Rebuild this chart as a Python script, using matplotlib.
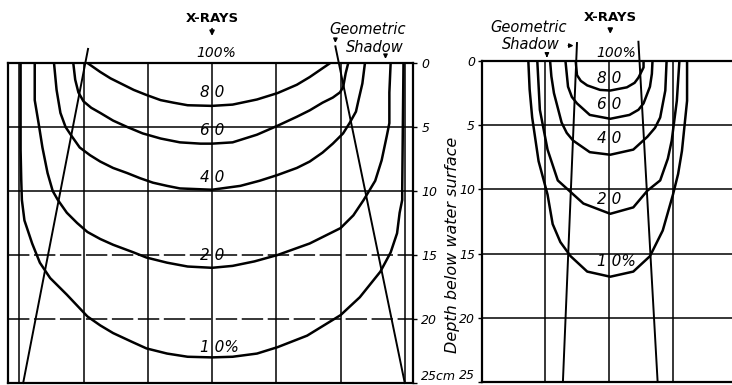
# %%
import matplotlib.pyplot as plt

# %% isodose curves, wide field (x: cm from beam axis, d: depth in cm)
wide_80_x = [-9.7, -8.7, -7.9, -6.9, -6.1, -5.1, -4.0, -3.0, -1.9, 0.0, 1.6, 3.5, 5.1, 6.6, 7.6, 8.4, 9.2]
wide_80_d = [0.0, 0.7, 1.2, 1.7, 2.1, 2.5, 2.9, 3.1, 3.3, 3.35, 3.25, 2.85, 2.35, 1.7, 1.1, 0.55, 0.0]
wide_60_x = [-10.8, -10.65, -10.4, -10.0, -9.4, -8.7, -7.7, -6.6, -5.4, -4.0, -2.5, -0.9, 0.0,
             1.6, 3.5, 5.1, 6.6, 7.6, 8.6, 9.4, 9.95, 10.2, 10.4, 10.6]
wide_60_d = [0.0, 1.3, 2.3, 3.0, 3.5, 3.9, 4.5, 5.0, 5.5, 5.9, 6.2, 6.3, 6.3,
             6.2, 5.6, 4.9, 4.2, 3.7, 3.1, 2.7, 2.3, 1.9, 0.8, 0.0]
wide_40_x = [-12.3, -12.1, -11.8, -11.4, -11.0, -10.3, -9.5, -8.7, -7.7, -6.6, -5.6, -4.6, -3.5, -2.5, 0.0,
             2.2, 3.7, 5.1, 6.6, 7.6, 8.6, 9.4, 10.2, 10.7, 11.2, 11.4, 11.7, 11.9]
wide_40_d = [0.0, 2.1, 3.9, 5.0, 5.6, 6.6, 7.2, 7.7, 8.2, 8.6, 9.0, 9.35, 9.6, 9.8, 9.9,
             9.6, 9.2, 8.75, 8.2, 7.7, 7.0, 6.3, 5.5, 4.7, 3.8, 2.9, 1.6, 0.0]
wide_20_x = [-13.8, -13.8, -13.5, -13.2, -12.8, -12.4, -12.0, -11.3, -10.5, -9.7, -8.7, -7.7, -6.1, -5.1,
             -3.5, -1.9, 0.0, 1.6, 3.3, 5.1, 7.6, 10.0, 11.0, 11.8, 12.7, 13.2, 13.6, 13.8, 13.8, 13.9]
wide_20_d = [0.0, 2.9, 4.7, 6.6, 8.6, 10.0, 10.7, 11.7, 12.5, 13.2, 13.75, 14.2, 14.8, 15.2,
             15.6, 15.9, 16.0, 15.85, 15.5, 15.0, 14.1, 12.9, 11.9, 10.7, 9.2, 7.6, 5.7, 4.7, 2.3, 0.0]
wide_10_x = [-14.9, -14.9, -14.85, -14.8, -14.6, -14.0, -13.4, -12.6, -11.3, -9.7, -8.7, -7.7, -6.2, -5.1,
             -3.5, -1.9, 0.0, 1.6, 3.5, 5.1, 7.4, 10.0, 11.5, 13.1, 13.9, 14.4, 14.6, 14.8, 14.8, 14.9]
wide_10_d = [0.0, 6.8, 9.1, 10.7, 12.3, 14.1, 15.6, 16.8, 18.1, 19.8, 20.5, 21.1, 21.8, 22.3,
             22.7, 22.95, 23.0, 22.95, 22.7, 22.2, 21.3, 19.7, 18.3, 16.3, 14.8, 13.3, 11.7, 10.7, 9.9, 0.0]
wide_shadow_left_x = [-9.65, -14.7]
wide_shadow_left_d = [-1.1, 25.0]
wide_shadow_right_x = [9.6, 15.0]
wide_shadow_right_d = [-1.3, 25.0]

# %% isodose curves, narrow field
narrow_80_x = [-2.6, -2.5, -2.2, -1.7, -0.7, 0.1, 1.4, 2.0, 2.3, 2.7, 2.7]
narrow_80_d = [0.0, 1.1, 1.55, 1.9, 2.25, 2.3, 2.05, 1.7, 1.3, 0.5, 0.0]
narrow_60_x = [-3.4, -3.3, -3.2, -2.9, -2.5, -1.5, 0.1, 1.6, 2.3, 2.7, 3.2, 3.35, 3.4]
narrow_60_d = [0.0, 1.0, 2.0, 2.8, 3.3, 4.2, 4.5, 4.2, 3.8, 3.3, 2.0, 1.0, 0.0]
narrow_40_x = [-4.6, -4.5, -4.3, -3.7, -3.3, -2.8, -1.5, 0.1, 1.9, 3.0, 3.6, 4.0, 4.4, 4.5]
narrow_40_d = [0.0, 1.2, 2.5, 4.8, 5.6, 6.2, 7.1, 7.3, 6.9, 5.9, 5.2, 4.4, 2.3, 0.0]
narrow_20_x = [-5.6, -5.5, -5.4, -4.8, -4.0, -3.0, -2.0, 0.1, 1.9, 3.0, 4.0, 4.6, 4.9, 5.3, 5.5]
narrow_20_d = [0.0, 1.9, 3.8, 6.9, 9.3, 10.2, 11.1, 11.9, 11.4, 10.1, 9.3, 7.6, 6.2, 3.1, 0.0]
narrow_10_x = [-6.3, -6.2, -6.0, -5.5, -4.8, -4.4, -3.8, -3.0, -1.7, 0.1, 1.9, 3.2, 4.2, 5.0, 5.4, 5.7, 6.1, 6.1]
narrow_10_d = [0.0, 2.2, 4.4, 7.8, 10.4, 12.7, 14.1, 15.2, 16.4, 16.8, 16.4, 15.2, 13.2, 10.4, 8.8, 7.0, 3.1, 0.0]
narrow_shadow_left_x = [-2.5, -3.6]
narrow_shadow_left_d = [-1.4, 25.0]
narrow_shadow_right_x = [2.3, 3.8]
narrow_shadow_right_d = [-1.5, 25.0]

depth_ticks = [0, 5, 10, 15, 20, 25]
wide_tick_labels = ["0", "5", "10", "15", "20", "25cm"]
narrow_tick_labels = ["0", "5", "10", "15", "20", "25"]
wide_level_labels = ["8 0", "6 0", "4 0", "2 0", "1 0%"]
wide_level_pos = [(0.0, 2.65), (0.0, 5.6), (0.0, 9.3), (0.0, 15.4), (0.6, 22.6)]
narrow_level_labels = ["8 0", "6 0", "4 0", "2 0", "1 0%"]
narrow_level_pos = [(0.0, 1.75), (0.0, 3.7), (0.0, 6.4), (0.0, 11.1), (0.6, 16.0)]

W, H = 732, 385
fig = plt.figure(figsize=(W / 100, H / 100), dpi=100)


def px_axes(x0, x1, y0, y1):
    return [x0 / W, 1 - y1 / H, (x1 - x0) / W, (y1 - y0) / H]


hand = dict(family="DejaVu Sans", style="italic")
curve_kw = dict(color="black", lw=1.8, solid_capstyle="round", solid_joinstyle="round")
arrow_kw = dict(arrowstyle="-|>", color="black", lw=1.0, mutation_scale=6)

# %% wide field panel
axL = fig.add_axes(px_axes(8, 413, 63, 383))
axL.set_xlim(-15.88, 15.64)
axL.set_ylim(25, 0)
for x in [-15, -10, -5, 0, 5, 10, 15]:
    axL.axvline(x, color="black", lw=1.1)
for d in [5, 10]:
    axL.axhline(d, color="black", lw=1.1)
for d in [15, 20]:
    axL.axhline(d, color="black", lw=1.1, ls=(0, (14, 3)))

for xs, ds in [(wide_80_x, wide_80_d), (wide_60_x, wide_60_d), (wide_40_x, wide_40_d),
               (wide_20_x, wide_20_d), (wide_10_x, wide_10_d)]:
    axL.plot(xs, ds, **curve_kw)
axL.plot(wide_shadow_left_x, wide_shadow_left_d, color="black", lw=1.4, clip_on=False)
axL.plot(wide_shadow_right_x, wide_shadow_right_d, color="black", lw=1.4, clip_on=False)

for lab, (x, d) in zip(wide_level_labels, wide_level_pos):
    axL.text(x, d, lab, ha="center", va="baseline", fontsize=11, **hand)

axL.text(0, -3.5, "X-RAYS", ha="center", va="center", fontsize=9.5, weight="bold")
axL.annotate("", xy=(0, -1.9), xytext=(0, -2.9), annotation_clip=False,
             arrowprops=dict(arrowstyle="-|>", color="black", lw=1.2, mutation_scale=7))
axL.text(0.3, -0.5, "100%", ha="center", va="baseline", fontsize=10, **hand)
axL.text(12.1, -2.6, "Geometric", ha="center", va="center", fontsize=10.5, **hand)
axL.text(12.7, -1.25, "Shadow", ha="center", va="center", fontsize=10.5, **hand)
axL.annotate("", xy=(9.6, -1.35), xytext=(9.6, -2.1), annotation_clip=False, arrowprops=arrow_kw)
axL.annotate("", xy=(13.5, -0.1), xytext=(13.5, -0.8), annotation_clip=False, arrowprops=arrow_kw)

axL.set_xticks([])
axL.yaxis.tick_right()
axL.set_yticks(depth_ticks)
axL.set_yticklabels(wide_tick_labels, fontsize=9, **hand)
axL.get_yticklabels()[-1].set_va("bottom")
axL.tick_params(axis="y", length=3, width=1, pad=3)
for s in axL.spines.values():
    s.set_linewidth(1.6)

# %% narrow field panel
axR = fig.add_axes(px_axes(482, 732, 61, 382))
axR.set_xlim(-9.92, 9.61)
axR.set_ylim(25, 0)
for x in [-5, 0, 5]:
    axR.axvline(x, color="black", lw=1.1)
for d in [5, 10, 15, 20]:
    axR.axhline(d, color="black", lw=1.1)

for xs, ds in [(narrow_80_x, narrow_80_d), (narrow_60_x, narrow_60_d), (narrow_40_x, narrow_40_d),
               (narrow_20_x, narrow_20_d), (narrow_10_x, narrow_10_d)]:
    axR.plot(xs, ds, **curve_kw)
axR.plot(narrow_shadow_left_x, narrow_shadow_left_d, color="black", lw=1.4, clip_on=False)
axR.plot(narrow_shadow_right_x, narrow_shadow_right_d, color="black", lw=1.4, clip_on=False)

for lab, (x, d) in zip(narrow_level_labels, narrow_level_pos):
    axR.text(x, d, lab, ha="center", va="baseline", fontsize=11, **hand)

axR.text(0.1, -3.35, "X-RAYS", ha="center", va="center", fontsize=9.5, weight="bold")
axR.annotate("", xy=(0.1, -1.9), xytext=(0.1, -2.7), annotation_clip=False,
             arrowprops=dict(arrowstyle="-|>", color="black", lw=1.2, mutation_scale=7))
axR.text(0.6, -0.35, "100%", ha="center", va="baseline", fontsize=10, **hand)
axR.text(-6.3, -2.6, "Geometric", ha="center", va="center", fontsize=10.5, **hand)
axR.text(-6.1, -1.25, "Shadow", ha="center", va="center", fontsize=10.5, **hand)
axR.annotate("", xy=(-2.55, -1.2), xytext=(-3.4, -1.2), annotation_clip=False, arrowprops=arrow_kw)
axR.annotate("", xy=(-4.85, -0.05), xytext=(-4.85, -0.7), annotation_clip=False, arrowprops=arrow_kw)

axR.set_xticks([])
axR.set_yticks(depth_ticks)
axR.set_yticklabels(narrow_tick_labels, fontsize=9, **hand)
axR.get_yticklabels()[-1].set_va("bottom")
axR.tick_params(axis="y", length=3, width=1, pad=2)
axR.spines["right"].set_visible(False)
for s in axR.spines.values():
    s.set_linewidth(1.6)

fig.text(453 / W, 1 - 245 / H, "Depth below water surface", rotation=90,
         ha="center", va="center", fontsize=11.5, **hand)

fig.savefig("out.png", dpi=100)
